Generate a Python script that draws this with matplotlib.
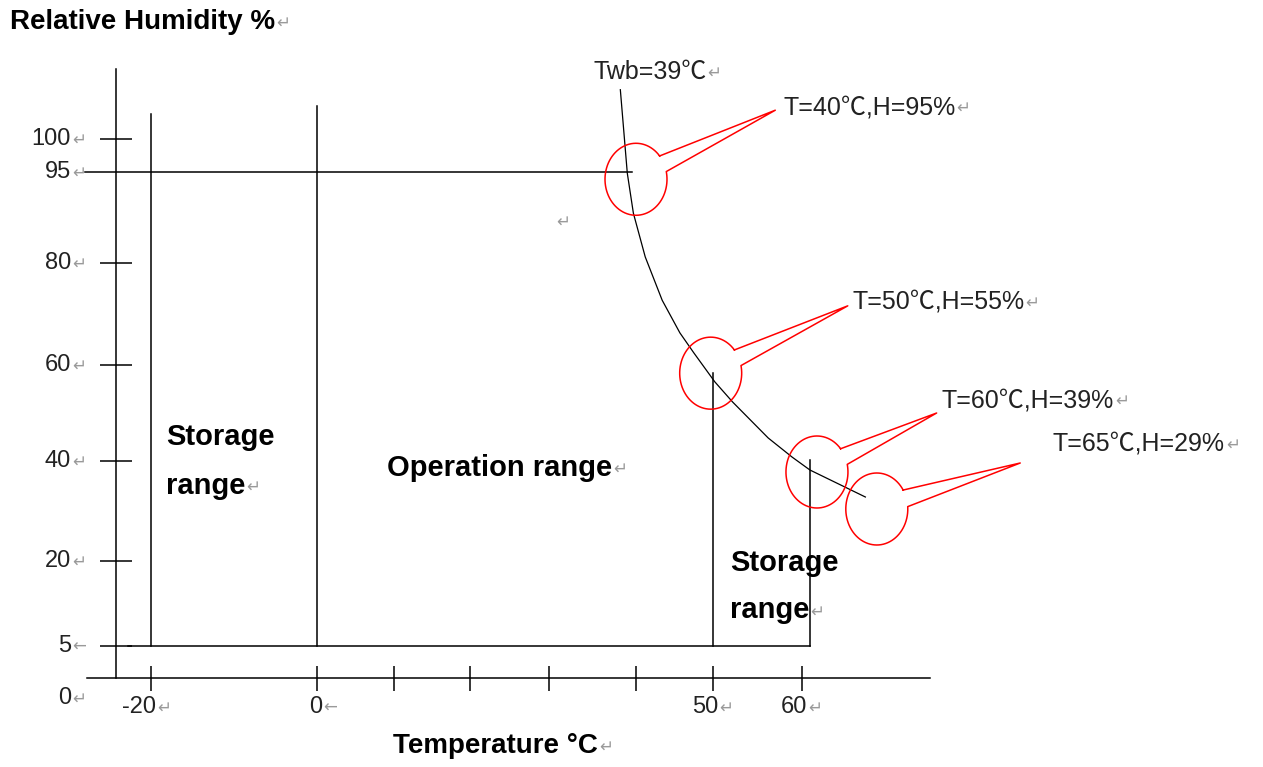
import numpy as np
import matplotlib
matplotlib.use("Agg")
import matplotlib.pyplot as plt
from matplotlib.transforms import IdentityTransform

# ---- axis calibration of the hand drawn diagram (value -> pixel from left / bottom) ----
T_CAL = [-300, -20, 0, 10, 20, 30, 40, 50, 60, 300]
T_PX = [-2187, 151, 317, 394, 470, 549, 636, 713, 802, 2914]
H_CAL = [-300, 0, 5, 20, 40, 60, 80, 95, 100, 400]
H_PX = [-1651, 89, 121, 206, 306, 402, 504, 595, 628, 2548]

# ---- data: temperature (degC) / relative humidity (%) ----
Y_TICK_VALUES = [100, 95, 80, 60, 40, 20, 5]
Y_TICK_LABELS = ["100", "95", "80", "60", "40", "20", "5"]
Y_TICK_MARKS = ["↵", "↵", "↵", "↵", "↵", "↵", "←"]
Y_SHORT_TICKS = [100, 80, 60, 40, 20, 5]
X_TICK_VALUES = [-20, 0, 10, 20, 30, 40, 50, 60]
X_LABEL_VALUES = [-20, 0, 50, 60]
X_LABEL_MARKS = ["↵", "←", "↵", "↵"]

RH_AXIS_T = -24.2
RH_AXIS_TOP = 110.9
T_AXIS_SPAN = [-27.7, 74.5]
RH95_SPAN = [-27.9, 39.5]
RH5_SPAN = [-22.8, 60.9]

BOUND_T = [-20, 0, 50, 60.9]
BOUND_TOP = [103.9, 105.2, 58.3, 40.2]
BOUND_LOW = 5

TWB_T = [38.2, 39.0, 39.7, 41.2, 43.4, 45.7, 47.5, 50.2, 52.2, 56.2, 58.9, 60.9, 65.1, 67.2]
TWB_H = [107.7, 94.8, 88.2, 81.0, 72.7, 66.3, 62.4, 56.5, 52.3, 44.8, 40.8, 38.2, 34.6, 32.8]

POINT_T = [40.0, 49.7, 61.7, 68.5]
POINT_H = [93.8, 58.3, 37.8, 30.4]
TIP_T = [57.0, 65.2, 75.3, 84.8]
TIP_H = [104.5, 71.6, 50.0, 39.6]
LABEL_T = [57.9, 65.7, 75.9, 88.5]
LABEL_H = [105.0, 72.5, 52.7, 43.6]
LABEL_TXT = ["T=40℃,H=95%", "T=50℃,H=55%", "T=60℃,H=39%", "T=65℃,H=29%"]

W, H = 1263, 767
GRAY = "#9a9a9a"
REG = ["Liberation Sans", "Noto Sans CJK SC", "DejaVu Sans"]
MARKF = ["DejaVu Sans"]

fig = plt.figure(figsize=(W / 100, H / 100), dpi=100)
fig.patch.set_facecolor("white")
ax = fig.add_axes([0, 0, 1, 1])
ax.set_xscale("function", functions=(lambda v: np.interp(v, T_CAL, T_PX),
                                     lambda p: np.interp(p, T_PX, T_CAL)))
ax.set_yscale("function", functions=(lambda v: np.interp(v, H_CAL, H_PX),
                                     lambda p: np.interp(p, H_PX, H_CAL)))
ax.set_xlim(np.interp(0, T_PX, T_CAL), np.interp(W, T_PX, T_CAL))
ax.set_ylim(np.interp(0, H_PX, H_CAL), np.interp(H, H_PX, H_CAL))
ax.axis("off")

lw = 1.1
# axes
ax.plot([RH_AXIS_T, RH_AXIS_T], [0, RH_AXIS_TOP], color="black", lw=lw)
ax.plot(T_AXIS_SPAN, [0, 0], color="black", lw=lw)
ax.plot([RH_AXIS_T] * len(Y_SHORT_TICKS), Y_SHORT_TICKS, ls="none", marker="_",
        markersize=23, mew=lw, color="black")
ax.plot(X_TICK_VALUES, [0] * len(X_TICK_VALUES), ls="none", marker="|",
        markersize=18, mew=lw, color="black")

# range boundaries
ax.plot(RH95_SPAN, [95, 95], color="black", lw=lw)
ax.plot(RH5_SPAN, [5, 5], color="black", lw=lw)
for t, top in zip(BOUND_T, BOUND_TOP):
    ax.plot([t, t], [BOUND_LOW, top], color="black", lw=lw)

# wet bulb curve
ax.plot(TWB_T, TWB_H, color="black", lw=0.9)

marked = []  # (text artist, mark symbol)

# tick labels
for v, lab, m in zip(Y_TICK_VALUES, Y_TICK_LABELS, Y_TICK_MARKS):
    t = ax.text(-29.6, v, lab, ha="right", va="center", fontsize=17, family=REG, color="#222222")
    marked.append((t, m))
t0 = ax.annotate("0", xy=(-29.6, 0), xytext=(0, -14.4), textcoords="offset points",
                 ha="right", va="center", fontsize=17, family=REG, color="#222222")
marked.append((t0, "↵"))
for v, m in zip(X_LABEL_VALUES, X_LABEL_MARKS):
    t = ax.annotate(f"{v}", xy=(v, 0), xytext=(3.6, -21), textcoords="offset points",
                    ha="right", va="center", fontsize=17, family=REG, color="#222222")
    marked.append((t, m))

# titles
t = fig.text(10 / W, 1 - 22 / H, "Relative Humidity %", ha="left", va="center",
             fontsize=20, weight="bold", family=REG)
marked.append((t, "↵"))
t = fig.text(393 / W, 1 - 746 / H, "Temperature °C", ha="left", va="center",
             fontsize=20, weight="bold", family=REG)
marked.append((t, "↵"))

# range names
bold = dict(ha="left", va="center", fontsize=21, weight="bold", family=REG)
ax.text(-18.2, 45.0, "Storage", **bold)
marked.append((ax.text(-18.2, 35.0, "range", **bold), "↵"))
marked.append((ax.text(9.1, 38.6, "Operation range", **bold), "↵"))
ax.text(51.9, 19.6, "Storage", **bold)
marked.append((ax.text(51.9, 11.3, "range", **bold), "↵"))

# curve label and callouts
marked.append((ax.text(35.1, 110.5, "Twb=39℃", ha="left", va="center", fontsize=18,
                       family=REG, color="#222222"), "↵"))
ax.text(31.6, 86.8, "↵", ha="center", va="center", fontsize=12, family=MARKF, color=GRAY)

for pt, ph, tt, th, lt, lh, txt in zip(POINT_T, POINT_H, TIP_T, TIP_H,
                                       LABEL_T, LABEL_H, LABEL_TXT):
    cx, cy = ax.transData.transform((pt, ph))
    tx, ty = ax.transData.transform((tt, th))
    ang = np.degrees(np.arctan2(ty - cy, tx - cx))
    a = np.radians(np.linspace(ang + 14, ang + 346, 160))
    xs = np.concatenate([cx + 31 * np.cos(a), [tx, cx + 31 * np.cos(a[0])]])
    ys = np.concatenate([cy + 36 * np.sin(a), [ty, cy + 36 * np.sin(a[0])]])
    ax.plot(xs, ys, color="red", lw=1.1, transform=IdentityTransform())
    marked.append((ax.text(lt, lh, txt, ha="left", va="center", fontsize=18,
                           family=REG, color="#222222"), "↵"))

# Word paragraph marks after each text
renderer = fig.canvas.get_renderer()
for art, sym in marked:
    bb = art.get_window_extent(renderer)
    fig.text(bb.x1 + 1, (bb.y0 + bb.y1) / 2 - 1, sym, transform=IdentityTransform(),
             ha="left", va="center", fontsize=12, family=MARKF, color=GRAY)

fig.savefig("out.png", dpi=100)
